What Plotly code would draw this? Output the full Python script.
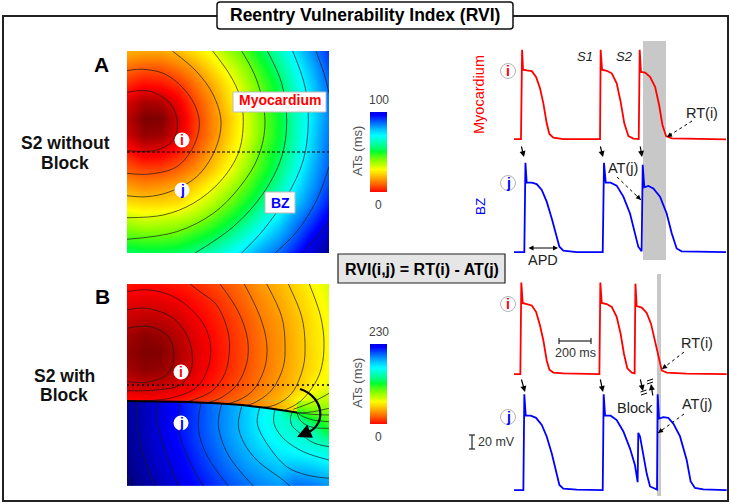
import plotly.graph_objects as go

W, H = 731, 504

# ---------- activation-time tables (ms) ----------
A_COLS = [0, 16.8, 33.7, 50.5, 67.3, 84.2, 101, 117.8, 134.7, 151.5, 168.3, 185.2, 202]
A_ROWS = A_COLS
AT_A = [
    [30, 29, 29, 31, 35, 39, 45, 50, 57, 63, 70, 77, 84],
    [23, 21, 21, 24, 28, 34, 40, 46, 53, 60, 67, 74, 82],
    [16, 13, 14, 17, 23, 29, 36, 43, 50, 57, 65, 72, 80],
    [9, 4, 5, 11, 19, 26, 34, 41, 49, 56, 63, 71, 79],
    [6, 0, 0, 8, 17, 25, 32, 40, 48, 55, 63, 70, 78],
    [8, 2, 3, 9, 18, 25, 33, 40, 48, 55, 63, 71, 79],
    [15, 10, 11, 15, 21, 28, 35, 42, 50, 57, 64, 72, 80],
    [21, 19, 19, 22, 26, 32, 38, 45, 52, 59, 66, 74, 81],
    [28, 26, 27, 29, 33, 38, 43, 49, 56, 62, 69, 76, 83],
    [35, 34, 34, 35, 39, 43, 48, 54, 60, 66, 72, 79, 86],
    [43, 41, 42, 43, 45, 49, 54, 59, 65, 70, 77, 83, 90],
    [50, 49, 49, 50, 53, 56, 60, 65, 70, 75, 81, 88, 94],
    [58, 57, 57, 58, 60, 63, 67, 71, 76, 80, 86, 92, 98],
]
B_UP_ROWS = [0, 17, 34, 51, 68, 85, 102, 117]
AT_B_UP = [
    [32.5, 31, 32, 34, 38, 43, 49, 56, 64, 70, 78, 86, 94],
    [24, 22, 23, 26, 31, 37, 44, 52, 60, 67, 75, 83, 91],
    [17, 14, 15, 19, 26, 33, 40, 48, 57, 64, 72, 81, 89],
    [9, 3, 6, 13, 22, 30, 38, 46, 55, 62, 71, 80, 88],
    [5, 0, 1, 10, 20, 28.5, 37, 45.5, 54, 62, 70.5, 79, 87.5],
    [9, 3, 5, 12, 21.5, 29.5, 38, 46, 54.5, 62.5, 71, 79.5, 88],
    [18.5, 16, 17, 21.5, 27, 34, 41.5, 49, 57, 65, 73, 84, 92],
    [32, 30.5, 31, 33.5, 38, 43, 49.5, 55.5, 63, 70, 85, 98, 100],
]
B_LOW_ROWS = [116.9, 117, 123, 130, 137, 144, 152, 162, 172, 182, 192, 202]
AT_B_LOW = [
    [225, 217, 208, 200, 192, 184, 175, 167, 159, 150, 100, 98, 100],
    [225, 217, 208, 200, 192, 184, 175, 167, 159, 150, 100, 98, 100],
    [225, 217, 208, 200, 192, 183, 175, 166, 158, 150, 110, 105, 105],
    [225, 217, 208, 200, 192, 183, 175, 166, 157, 150, 132, 115, 110],
    [225, 217, 208, 200, 192, 183, 175, 166, 157, 150, 146, 130, 116],
    [225, 217, 208, 200, 192, 183, 175, 166, 158, 151, 148, 140, 122],
    [226, 217, 208, 200, 192, 184, 175, 167, 159, 153, 150, 147, 133],
    [226, 218, 209, 201, 193, 185, 177, 169, 162, 157, 154, 151, 147],
    [227, 219, 210, 203, 195, 187, 179, 172, 166, 161, 159, 157, 153],
    [228, 220, 212, 204, 197, 189, 182, 175, 170, 166, 167, 165, 160],
    [230, 222, 214, 206, 199, 192, 185, 179, 174, 170, 175, 173, 168],
    [231, 224, 216, 209, 201, 195, 188, 183, 178, 175, 183, 181, 176],
]
BLOCK_X = [0, 30, 60, 90, 115, 140, 160, 170]
BLOCK_Y = [117, 117.5, 118, 119.3, 121, 124, 126.5, 128.5]
BAR_A = [12.5, 23, 33, 42, 50, 58, 65, 72, 81, 90]
BAR_B = [29, 53, 76, 97, 115, 133, 150, 166, 186, 207]

ISO_A = [
    [(0, 41.3), (23, 40.3), (43, 52.3), (50.3, 70.7), (46.3, 89), (29.7, 99), (0, 99.7)],
    [(0, 19.7), (16.3, 18.3), (39.7, 24), (63, 45.7), (72.3, 70.7), (66.3, 95.7), (49.7, 115.7), (23, 123), (0, 122.3)],
    [(45.3, 0), (69.7, 20.7), (86.3, 44), (94, 70.7), (88, 99), (69.7, 125.7), (43, 140.7), (19.7, 145.7), (0, 144.7)],
    [(85.7, 0), (103, 24), (113, 45.7), (116.3, 70.7), (111.3, 102.3), (93, 130.7), (66.3, 152.3), (36.3, 164), (0, 166.7)],
    [(114.7, 0), (129.7, 29), (138, 70.7), (131.3, 105.7), (113, 135.7), (86.3, 162.3), (49.7, 180.7), (0, 188.3)],
    [(140.3, 0), (154.7, 32.3), (159.7, 70.7), (154.7, 105.7), (136.3, 142.3), (106.3, 175.7), (68, 202)],
    [(165.7, 0), (178, 35.7), (181.3, 70.7), (176.3, 109), (159.7, 145.7), (136.3, 179), (114.7, 202)],
    [(189, 0), (198, 25.7), (202, 42.3)],
    [(202, 115.7), (189.7, 149), (169.7, 180.7), (148, 202)],
    [(202, 170.7), (189.7, 185.7), (175.7, 202)],
]
ISO_B = [
    [(0, 44.3), (23, 42.7), (41.3, 52.7), (47, 71), (41.3, 89.3), (23, 97.7), (0, 97.7)],
    [(0, 26), (19.7, 24.3), (46.3, 34.3), (61.3, 54.3), (65.3, 72.7), (63, 89.3), (53, 101), (29.7, 106), (0, 106.7)],
    [(0, 7.7), (23, 6), (49.7, 14.3), (73, 35), (81.3, 51), (83.7, 67.7), (80.3, 86), (70, 103), (46.3, 113.5), (18, 117)],
    [(63, 0), (73, 7.7), (89.7, 21), (101.3, 49.3), (102.3, 67.7), (98, 89.3), (86.3, 106), (73, 113.3), (60, 118)],
    [(93, 0), (111.3, 27.7), (120.7, 56), (119.7, 79.3), (109.7, 101), (93, 114.3), (80, 118.8)],
    [(117.3, 0), (133, 32.7), (139.7, 59.3), (138, 82.7), (126.3, 106), (112, 116), (100, 120)],
    [(139.7, 0), (154.7, 32.7), (158, 59.3), (156.3, 82.7), (144.7, 106), (126.3, 119.3), (118, 121.5)],
    [(161.3, 0), (174.7, 32.7), (178, 59.3), (176.3, 82.7), (164.7, 109.3), (148, 121), (135, 123.5)],
    [(182.3, 0), (193.7, 32.7), (197, 59.3), (194.7, 82.7), (188, 99.3), (173, 117.7), (158, 126)],
    [(202, 109.3), (186.3, 117.7), (166.3, 125.3)],
    [(202, 124.3), (186.3, 127.7), (169.7, 129.3)],
    [(202, 131), (184.7, 130.3), (170, 128.5)],
    [(202, 137.7), (186.3, 136), (176.3, 132.7), (170, 128.7)],
    [(202, 144.3), (183, 142.7), (173, 136), (170, 128.7)],
    [(166.3, 126.7), (163.7, 132.7), (164.7, 141), (173, 149.3), (186.3, 158.7), (202, 162.7)],
    [(148, 125), (147, 139.3), (156.3, 154.3), (176.3, 167.7), (202, 176)],
    [(132.7, 123.5), (130.3, 139.3), (139.7, 159.3), (159.7, 182.7), (179.7, 191), (202, 194.3)],
    [(115, 121.4), (111.3, 141), (116.3, 157.7), (129.7, 176), (156, 196), (163, 202)],
    [(94.7, 120), (91.3, 141), (101.3, 171), (126.3, 202)],
    [(74, 118.4), (71.3, 144.3), (79.7, 171), (101.3, 202)],
    [(53, 118), (51.3, 144.3), (61.3, 174.3), (76.3, 202)],
    [(31.3, 117.5), (30.3, 137.7), (38, 167.7), (51.3, 202)],
    [(10.7, 117), (9.7, 137.7), (16.3, 171), (28, 202)],
    [(0, 191), (4.7, 202)],
]

# ---------- action potentials (time ms, voltage mV) ----------
T_AI = [0, 44, 51, 57, 80, 112, 139, 164, 185, 206, 223, 248, 311, 542, 546, 555, 584, 616, 647, 672, 695, 721, 752, 786, 792, 800, 826, 857, 889, 914, 935, 958, 994, 1130, 1336]
V_AI = [-85, -85, 40, 12, 11, 10, 2, -14, -35, -63, -78, -83, -85, -85, 40, 12, 10.5, 7, -7, -33, -63, -81, -84.5, -85, 40, 9, 8, 2, -12, -37, -65, -81, -84, -85, -85.5]
T_AJ = [0, 65, 72, 80, 112, 143, 175, 206, 238, 263, 286, 311, 395, 559, 567, 578, 609, 647, 689, 731, 762, 783, 804, 811, 821, 847, 878, 920, 962, 994, 1025, 1056, 1336]
V_AJ = [-85, -85, 40, 12, 12, 10, 2, -14.5, -38, -59, -77.5, -83, -85, -85, 40, 12, 12, 8, -7.5, -31, -56.5, -77.5, -84, 37, 5.5, 7.5, 4, -7.5, -31, -59, -80, -84, -85]
T_BI = [-4, 40, 46, 55, 80, 112, 139, 164, 185, 206, 223, 248, 311, 538, 544, 553, 584, 616, 647, 672, 693, 714, 742, 760, 765, 773, 805, 836, 863, 889, 914, 931, 962, 1088, 1340]
V_BI = [-85, -85, 43, 14.5, 13, 11, 2, -17, -38, -66, -79, -83, -84, -85, 43, 14.5, 13, 9, -5, -29, -57, -77, -83, -84, 41.5, 10, 8, 0.5, -14.5, -40, -68, -80, -83, -84.5, -85]
T_BJ = [-4, 59, 65, 74, 105, 139, 175, 206, 238, 265, 286, 311, 395, 559, 565, 574, 609, 647, 689, 731, 762, 779, 783, 794, 815, 836, 857, 888, 901, 905, 914, 941, 972, 1004, 1046, 1088, 1113, 1140, 1193, 1340]
V_BJ = [-85, -85, 49, 19, 19, 16, 6, -10, -34, -59, -78, -83, -84.5, -85, 49, 19, 19, 13, -3, -27, -50, -74, -5, -10, -34, -62, -80, -84, -84.5, 49, 15, 17, 16, 8, -10, -43, -73, -82, -84, -85]

JET = [[0, "#7f0000"], [0.125, "#ff0000"], [0.25, "#ff8000"], [0.38, "#ffff00"], [0.47, "#80ff00"], [0.55, "#00ff30"],
       [0.61, "#00ff9a"], [0.68, "#00ffff"], [0.78, "#0080ff"], [0.875, "#0000ff"], [1, "#00007f"]]
FONT = "Liberation Sans"
RED, BLUE, GREY, INK = "#ff0000", "#0000ff", "#c8c8c8", "#222222"


def X(px):
    return px / W


def Y(py):
    return 1 - py / H


fig = go.Figure()
layout_axes = {}


def axes(n, left, right, top, bottom, xr, yr):
    sfx = "" if n == 1 else str(n)
    layout_axes[f"xaxis{sfx}"] = dict(domain=[X(left), X(right)], range=xr, visible=False, anchor=f"y{sfx}", fixedrange=True)
    layout_axes[f"yaxis{sfx}"] = dict(domain=[Y(bottom), Y(top)], range=yr, visible=False, anchor=f"x{sfx}", fixedrange=True)
    return f"x{sfx}", f"y{sfx}"


def heat(xa, ya, xs, ys, z, zmax):
    fig.add_trace(go.Heatmap(x=xs, y=ys, z=z, zmin=0, zmax=zmax, colorscale=JET, zsmooth="best",
                             showscale=False, hoverinfo="skip", xaxis=xa, yaxis=ya))


def iso(xa, ya, lines):
    xs, ys = [], []
    for line in lines:
        xs += [p[0] for p in line] + [None]
        ys += [p[1] for p in line] + [None]
    fig.add_trace(go.Scatter(x=xs, y=ys, mode="lines", line=dict(color="#1a1a1a", width=0.7, shape="spline", smoothing=1),
                             hoverinfo="skip", xaxis=xa, yaxis=ya))


def ap(n, top_base, t, v, color):
    bottom = top_base + 3.6
    top = bottom - 103.6
    xa, ya = axes(n, 514, 727, top, bottom, [0, 1342], [-90, 55])
    fig.add_trace(go.Scatter(x=t, y=v, mode="lines", line=dict(color=color, width=1.8), cliponaxis=False,
                             hoverinfo="skip", xaxis=xa, yaxis=ya))


# map A
xa, ya = axes(1, 127, 329, 51, 253, [0, 202], [202, 0])
heat(xa, ya, A_COLS, A_ROWS, AT_A, 100)
iso(xa, ya, ISO_A)

# map B
xa, ya = axes(2, 127, 329, 284, 486, [0, 202], [202, 0])
heat(xa, ya, A_COLS, B_UP_ROWS, AT_B_UP, 230)
heat(xa, ya, A_COLS, B_LOW_ROWS, AT_B_LOW, 230)
fig.add_trace(go.Scatter(
    x=BLOCK_X + [170, 0], y=BLOCK_Y + [117, 117], mode="none", fill="toself", hoverinfo="skip", xaxis=xa, yaxis=ya,
    fillgradient=dict(type="horizontal", start=0, stop=170,
                      colorscale=[[0, "#ff1000"], [0.5, "#ff4000"], [0.7, "#ff7a00"], [0.85, "#ffa000"], [1, "#ffe800"]])))
iso(xa, ya, ISO_B)
fig.add_trace(go.Scatter(x=BLOCK_X, y=BLOCK_Y, mode="lines", line=dict(color="black", width=2),
                         hoverinfo="skip", xaxis=xa, yaxis=ya))

# colour bars
for n, top, z, zmax in [(3, 112, BAR_A, 100), (4, 344, BAR_B, 230)]:
    xa, ya = axes(n, 370, 387, top, top + 80, [0, 1], [0, len(z) - 1])
    fig.add_trace(go.Heatmap(x=[0, 1], y=list(range(len(z))), z=[[v, v] for v in z], zmin=0, zmax=zmax,
                             colorscale=JET, zsmooth="best", showscale=False, hoverinfo="skip", xaxis=xa, yaxis=ya))

# traces
ap(5, 139, T_AI, V_AI, RED)
ap(6, 252, T_AJ, V_AJ, BLUE)
ap(7, 374, T_BI, V_BI, RED)
ap(8, 490, T_BJ, V_BJ, BLUE)

shapes, notes = [], []


def rect(x0, y0, x1, y1, fill=None, line=None, lw=1, layer="above"):
    shapes.append(dict(type="rect", xref="paper", yref="paper", x0=X(x0), x1=X(x1), y0=Y(y0), y1=Y(y1), layer=layer,
                       fillcolor=fill or "rgba(0,0,0,0)", line=dict(color=line or "rgba(0,0,0,0)", width=lw if line else 0)))


def seg(x0, y0, x1, y1, color=INK, lw=1.2, dash="solid"):
    shapes.append(dict(type="line", xref="paper", yref="paper", x0=X(x0), x1=X(x1), y0=Y(y0), y1=Y(y1),
                       line=dict(color=color, width=lw, dash=dash)))


def disc(cx, cy, r, fill="white", line=None, lw=1):
    shapes.append(dict(type="circle", xref="paper", yref="paper", x0=X(cx - r), x1=X(cx + r), y0=Y(cy - r), y1=Y(cy + r),
                       fillcolor=fill, line=dict(color=line or "rgba(0,0,0,0)", width=lw if line else 0)))


def text(cx, cy, s, size=12, color=INK, angle=0, bold=False, italic=False):
    if bold:
        s = f"<b>{s}</b>"
    if italic:
        s = f"<i>{s}</i>"
    notes.append(dict(xref="paper", yref="paper", x=X(cx), y=Y(cy), text=s, showarrow=False, textangle=angle,
                      xanchor="center", yanchor="middle", font=dict(family=FONT, size=size, color=color), align="center"))


def arrow(x0, y0, x1, y1, lw=1.2, size=1, head=2, side="end", color="black"):
    notes.append(dict(xref="paper", yref="paper", x=X(x1), y=Y(y1), ax=x0 - x1, ay=y0 - y1, text="", showarrow=True,
                      arrowhead=head, arrowsize=size, arrowwidth=lw, arrowcolor=color, arrowside=side, startarrowhead=head,
                      startarrowsize=size, standoff=0, startstandoff=0))


def dotted(x0, y0, x1, y1):
    seg(x0, y0, x1, y1, color="black", lw=1, dash="dot")
    arrow(x1 + (x0 - x1) * 0.25, y1 + (y0 - y1) * 0.25, x1, y1, lw=1)


# grey windows and frame
rect(643, 41, 666, 260, fill=GREY, layer="below")
rect(657, 274, 661, 496, fill=GREY, layer="below")
rect(3, 16, 728, 501, line="#222222", lw=2, layer="below")

# title box
r = 3
x0, x1, y0, y1 = 217, 513, 2, 29
shapes.append(dict(type="path", xref="paper", yref="paper", fillcolor="white", line=dict(color="#111111", width=1.5),
                   path=(f"M {X(x0 + r)} {Y(y0)} L {X(x1 - r)} {Y(y0)} Q {X(x1)} {Y(y0)} {X(x1)} {Y(y0 + r)} "
                         f"L {X(x1)} {Y(y1 - r)} Q {X(x1)} {Y(y1)} {X(x1 - r)} {Y(y1)} L {X(x0 + r)} {Y(y1)} "
                         f"Q {X(x0)} {Y(y1)} {X(x0)} {Y(y1 - r)} L {X(x0)} {Y(y0 + r)} Q {X(x0)} {Y(y0)} {X(x0 + r)} {Y(y0)} Z")))
text(365, 15, "Reentry Vulnerability Index (RVI)", 17.5, "black", bold=True)

# RVI box
rect(338, 254, 505, 283, fill="#e6e6e6", line="#222222", lw=1.2)
text(421.5, 269, "RVI(i,j) = RT(i) - AT(j)", 16, "black", bold=True)

# panel labels
text(101, 64, "A", 21, "black", bold=True)
text(102, 296, "B", 21, "black", bold=True)
text(65, 143, "S2 without", 17.5, "#111111", bold=True)
text(65, 163, "Block", 17.5, "#111111", bold=True)
text(64, 376, "S2 with", 17.5, "#111111", bold=True)
text(64, 395, "Block", 17.5, "#111111", bold=True)

# map overlays
seg(127, 152, 329, 152, color="black", lw=1.2, dash="3px,2px")
seg(127, 385, 329, 385, color="black", lw=1.4, dash="2px,3px")
rect(233, 92, 326, 112, fill="white", line="#bbbbbb", lw=1)
text(279.5, 100.5, "Myocardium", 14, RED, bold=True)
rect(265, 192, 295, 213, fill="white", line="#bbbbbb", lw=1)
text(280, 202.5, "BZ", 14, BLUE, bold=True)
for cx, cy, s, c in [(182, 140, "i", RED), (182, 190, "j", BLUE), (181, 372, "i", RED), (181, 423, "j", BLUE)]:
    disc(cx, cy, 7.5)
    text(cx, cy, s, 14, c, bold=True)
for cx, cy, s, c in [(508, 71, "i", RED), (508, 183, "j", BLUE), (508, 304, "i", RED), (508, 417, "j", BLUE)]:
    disc(cx, cy, 7.5, line="#b5b5b5")
    text(cx, cy, s, 14, c, bold=True)

# curved block arrow
shapes.append(dict(type="path", xref="paper", yref="paper", line=dict(color="black", width=2.2),
                   path=f"M {X(300)} {Y(389)} C {X(325)} {Y(397)} {X(328)} {Y(428)} {X(303)} {Y(434)}"))
arrow(306, 433, 297, 437, lw=2.2, size=1.3)

# colour-bar labels
for top, hi in [(112, "100"), (344, "230")]:
    text(378.5, top - 12, hi, 12, "#444444")
    text(378.5, top + 93, "0", 12, "#444444")
    text(357, top + 39, "ATs (ms)", 13, "#555555", angle=-90)

# trace labels
text(479, 94, "Myocardium", 14.5, RED, angle=-90)
text(480, 207, "BZ", 13.5, BLUE, angle=-90)
text(585, 56, "S1", 13, "#222222", italic=True)
text(624, 56, "S2", 13, "#222222", italic=True)
text(702, 113, "RT(i)", 14.5)
text(623, 168, "AT(j)", 14.5)
text(543, 260, "APD", 14.5)
text(697, 343, "RT(i)", 14.5)
text(697, 404, "AT(j)", 14.5)
text(635, 408, "Block", 14.5)
text(575, 353, "200 ms", 12.5, "#333333")
text(496, 442, "20 mV", 12.5, "#333333")

# scale bars
seg(559, 341, 591, 341)
seg(559, 338, 559, 344)
seg(591, 338, 591, 344)
seg(472, 435, 472, 449)
seg(469, 435, 475, 435)
seg(469, 449, 475, 449)

# small arrows
arrow(527, 248, 558, 248, lw=1, side="end+start")
for a in [(521, 145, 524, 157), (600, 145, 603, 157), (640, 145, 642, 157),
          (521, 378, 525, 392), (600, 378, 603, 392), (640, 378, 643, 391), (653, 397, 651, 384)]:
    arrow(*a, lw=1.2)
seg(640.5, 392, 646.5, 390, color="black", lw=1)
seg(641, 395, 647, 393, color="black", lw=1)
seg(647, 381, 653, 379, color="black", lw=1)
seg(647, 384, 653, 382, color="black", lw=1)
dotted(692, 121, 667, 137)
dotted(617, 177, 641, 200)
dotted(684, 352, 662, 369)
dotted(684, 414, 658, 433)

fig.update_layout(width=W, height=H, margin=dict(l=0, r=0, t=0, b=0), paper_bgcolor="white", plot_bgcolor="rgba(0,0,0,0)",
                  showlegend=False, shapes=shapes, annotations=notes, **layout_axes)
fig.write_html("out.html", config=dict(displayModeBar=False),
               post_script="document.body.style.margin='0';document.documentElement.style.overflow='hidden';")
